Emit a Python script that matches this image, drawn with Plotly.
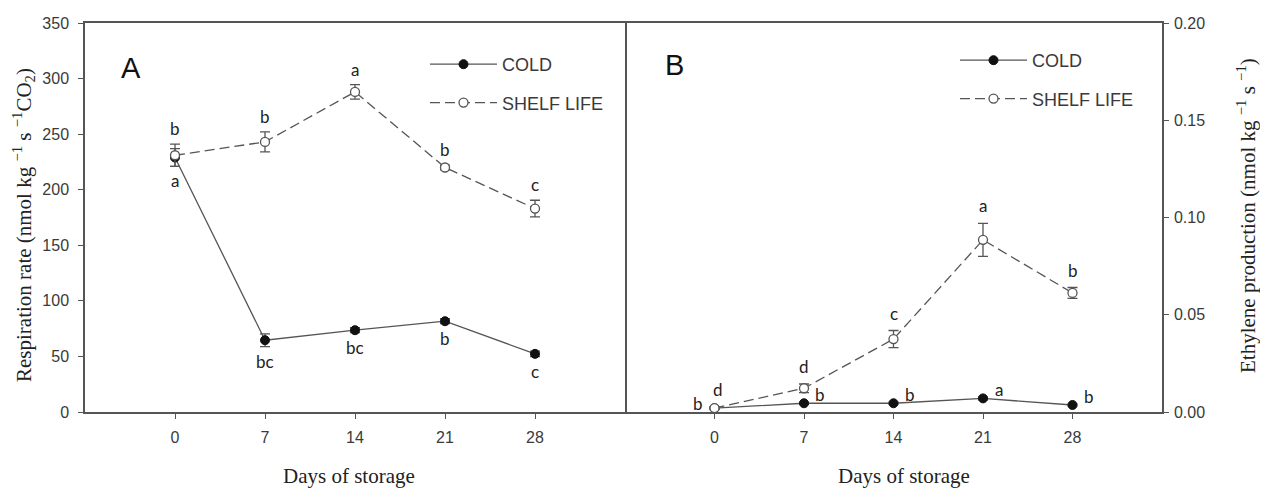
import plotly.graph_objects as go

days = [0, 7, 14, 21, 28]
day_ticks = ["0", "7", "14", "21", "28"]

# Panel A: respiration rate (nmol kg-1 s-1 CO2)
resp_cold = [229, 64.6, 73.6, 81.7, 52.3]
resp_cold_err = [8, 5.7, 2.2, 2.2, 2.5]
resp_shelf = [231, 243, 288, 220, 183]
resp_shelf_err = [10, 9, 6.5, 2.2, 7.5]
resp_cold_letters = ["a", "bc", "bc", "b", "c"]
resp_shelf_letters = ["b", "b", "a", "b", "c"]

# Panel B: ethylene production (nmol kg-1 s-1)
eth_cold = [0.002, 0.0045, 0.0045, 0.007, 0.0036]
eth_cold_err = [0.0004, 0.0006, 0.0006, 0.0007, 0.0005]
eth_shelf = [0.002, 0.0122, 0.0375, 0.0885, 0.0612]
eth_shelf_err = [0.0008, 0.0022, 0.0044, 0.0085, 0.0028]
eth_cold_letters = ["b", "b", "b", "a", "b"]
eth_shelf_letters = ["d", "d", "c", "a", "b"]

# page body margin offsets the figure by 8 px; compensate
OFF = 8
W, H = 1268 - OFF, 489 - OFF
MT, MB = 23 - OFF, 77
PH = H - MT - MB

GRAY = "#555555"
TXT = "#3a3a3a"
SANS = "Liberation Sans, Arial, sans-serif"
SERIF = "Liberation Serif, Times New Roman, serif"
LET = "Lato, Carlito, sans-serif"


def px_x(p):
    return (p - OFF) / W


def px_y(p):
    return (H - MB - (p - OFF)) / PH


fig = go.Figure()

line_style = dict(color=GRAY, width=1.3)
err_style = dict(type="data", color=GRAY, thickness=1.3, width=5, visible=True)


def add_pair(xa, ya, cold, cold_err, shelf, shelf_err, legend):
    fig.add_trace(go.Scatter(
        x=days, y=cold, mode="lines+markers", name="COLD",
        xaxis=xa, yaxis=ya, legend=legend, legendgroup=legend + "c",
        line=dict(**line_style),
        marker=dict(symbol="circle", size=9, color="#111111", line=dict(color="#111111", width=1)),
        error_y=dict(array=cold_err, **err_style),
    ))
    fig.add_trace(go.Scatter(
        x=days, y=shelf, mode="lines+markers", name="SHELF LIFE",
        xaxis=xa, yaxis=ya, legend=legend, legendgroup=legend + "s",
        line=dict(dash="10px,5px", **line_style),
        marker=dict(symbol="circle", size=9, color="white", line=dict(color=GRAY, width=1.3)),
        error_y=dict(array=shelf_err, **err_style),
    ))


add_pair("x", "y", resp_cold, resp_cold_err, resp_shelf, resp_shelf_err, "legend")
add_pair("x2", "y2", eth_cold, eth_cold_err, eth_shelf, eth_shelf_err, "legend2")

ann = []
letter_font = dict(family=LET, size=17, color="#222222")

# Panel A letters
for d, v, e, t in zip(days, resp_shelf, resp_shelf_err, resp_shelf_letters):
    ann.append(dict(x=d, y=v + e, xref="x", yref="y", text=t, showarrow=False,
                    yanchor="bottom", yshift=3, font=letter_font))
for d, v, e, t in zip(days, resp_cold, resp_cold_err, resp_cold_letters):
    ann.append(dict(x=d, y=v - e, xref="x", yref="y", text=t, showarrow=False,
                    yanchor="top", yshift=-2, font=letter_font))

# Panel B letters
for d, v, e, t in zip(days, eth_shelf, eth_shelf_err, eth_shelf_letters):
    ann.append(dict(x=d, y=v + e, xref="x2", yref="y2", text=t, showarrow=False,
                    yanchor="bottom", yshift=5, xshift=3 if d == 0 else 0, font=letter_font))
for i, (d, v, t) in enumerate(zip(days, eth_cold, eth_cold_letters)):
    ann.append(dict(x=d, y=v, xref="x2", yref="y2", text=t, showarrow=False,
                    yanchor="middle", yshift=9 if i else 5,
                    xshift=-17 if i == 0 else 16, font=letter_font))

# Panel labels
ann.append(dict(x=px_x(131), y=px_y(68), xref="paper", yref="paper", text="A", showarrow=False,
                xanchor="center", yanchor="middle", font=dict(family=SANS, size=29, color="#111111")))
ann.append(dict(x=px_x(674), y=px_y(65), xref="paper", yref="paper", text="B", showarrow=False,
                xanchor="center", yanchor="middle", font=dict(family=SANS, size=29, color="#111111")))

# Axis titles
title_font = dict(family=SERIF, size=21, color="#222222")
ann.append(dict(x=px_x(349), y=px_y(476), xref="paper", yref="paper", text="Days of storage",
                showarrow=False, xanchor="center", yanchor="middle", font=title_font))
ann.append(dict(x=px_x(904), y=px_y(476), xref="paper", yref="paper", text="Days of storage",
                showarrow=False, xanchor="center", yanchor="middle", font=title_font))
ann.append(dict(x=px_x(23), y=px_y(225), xref="paper", yref="paper", textangle=-90,
                text="Respiration rate (nmol kg <sup>−1</sup> s <sup>−1</sup>CO<sub>2</sub>)",
                showarrow=False, xanchor="center", yanchor="middle", font=title_font))
ann.append(dict(x=px_x(1246), y=px_y(216), xref="paper", yref="paper", textangle=-90,
                text="Ethylene production (nmol kg <sup>−1</sup> s <sup>−1</sup>)",
                showarrow=False, xanchor="center", yanchor="middle", font=title_font))

tick_font = dict(family=SANS, size=16, color=TXT)
common_x = dict(range=[-7, 35], tickvals=days, ticktext=day_ticks, ticks="outside", ticklen=5,
                tickwidth=1.3, tickcolor=GRAY, showline=True, linecolor=GRAY, linewidth=1.5,
                mirror=True, showgrid=False, zeroline=False, tickfont=tick_font,
                ticklabelstandoff=5)
common_y = dict(ticks="outside", ticklen=5, tickwidth=1.3, tickcolor=GRAY, showline=True,
                linecolor=GRAY, linewidth=1.5, showgrid=False, zeroline=False,
                tickfont=tick_font, domain=[0, 1])

legend_common = dict(font=dict(family=SANS, size=18, color=TXT), bgcolor="rgba(0,0,0,0)",
                     borderwidth=0, traceorder="grouped", tracegroupgap=12, itemwidth=67,
                     xanchor="left", yanchor="top")

fig.update_layout(
    width=W, height=H,
    margin=dict(l=0, r=0, t=MT, b=MB),
    paper_bgcolor="white", plot_bgcolor="white",
    xaxis=dict(domain=[px_x(85), px_x(625)], anchor="y", **common_x),
    yaxis=dict(range=[0, 350], tickvals=[0, 50, 100, 150, 200, 250, 300, 350], anchor="x",
               mirror=True, ticklabelstandoff=6, **common_y),
    xaxis2=dict(domain=[px_x(625), px_x(1162)], anchor="y2", **common_x),
    yaxis2=dict(range=[0, 0.2], tickvals=[0, 0.05, 0.1, 0.15, 0.2], tickformat=".2f",
                side="right", anchor="x2", mirror=False, ticklabelstandoff=2, **common_y),
    legend=dict(x=px_x(425), y=px_y(46), **legend_common),
    legend2=dict(x=px_x(955), y=px_y(42), **legend_common),
    annotations=ann,
    showlegend=True,
)

fig.write_html("out.html")
